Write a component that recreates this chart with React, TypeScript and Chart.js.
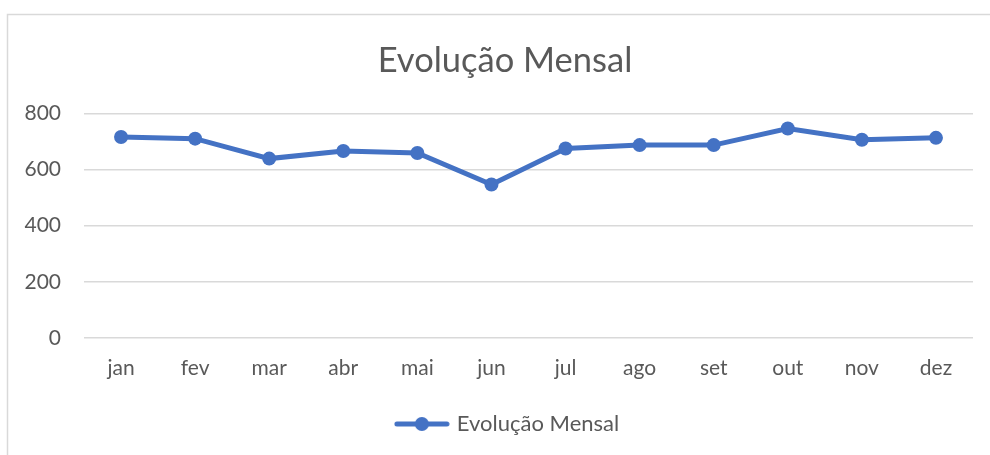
import React, { useEffect, useRef } from "react";
import { Chart, registerables } from "chart.js";
Chart.register(...registerables);

const categories = ["jan", "fev", "mar", "abr", "mai", "jun", "jul", "ago", "set", "out", "nov", "dez"];
const values = [716, 710, 639, 666, 659, 547, 675, 687, 687, 746, 706, 713];
const seriesName = "Evolução Mensal";
const chartTitle = "Evolução Mensal";
const yMin = 0;
const yMax = 800;
const yStep = 200;

const BLUE = "#4472C4";
const TEXT = "#595959";
const GRID = "#d9d9d9";
const FONT = "Lato, 'Open Sans', sans-serif";

function makeLegendImage(): HTMLCanvasElement {
  const c = document.createElement("canvas");
  c.width = 56;
  c.height = 16;
  const ctx = c.getContext("2d")!;
  ctx.strokeStyle = BLUE;
  ctx.lineWidth = 5;
  ctx.lineCap = "round";
  ctx.beginPath();
  ctx.moveTo(3, 8);
  ctx.lineTo(53, 8);
  ctx.stroke();
  ctx.fillStyle = BLUE;
  ctx.beginPath();
  ctx.arc(28, 8, 7, 0, Math.PI * 2);
  ctx.fill();
  return c;
}

const borderPlugin = {
  id: "outerBorder",
  beforeDraw(chart: any) {
    const ctx = chart.ctx;
    ctx.save();
    ctx.fillStyle = "#ffffff";
    ctx.fillRect(0, 0, chart.width, chart.height);
    ctx.strokeStyle = GRID;
    ctx.lineWidth = 1.5;
    ctx.beginPath();
    ctx.moveTo(7.5, chart.height + 5);
    ctx.lineTo(7.5, 14.5);
    ctx.lineTo(chart.width + 5, 14.5);
    ctx.stroke();
    ctx.restore();
  },
};

// shift title and legend to be centred like the original (centred on a slightly wider frame)
const shiftPlugin = {
  id: "shiftBlocks",
  afterLayout(chart: any) {
    const t = chart.titleBlock;
    if (t) {
      t.left += 18.5;
      t.right += 18.5;
    }
    const l = chart.legend;
    if (l) {
      l.left += 22;
      l.right += 22;
    }
  },
};

export default function App() {
  const ref = useRef<HTMLCanvasElement>(null);
  useEffect(() => {
    if (!ref.current) return;
    const legendImg = makeLegendImage();
    const chart = new Chart(ref.current, {
      type: "line",
      data: {
        labels: categories,
        datasets: [
          {
            label: seriesName,
            data: values,
            borderColor: BLUE,
            backgroundColor: BLUE,
            borderWidth: 5,
            pointRadius: 7,
            pointBackgroundColor: BLUE,
            pointBorderColor: BLUE,
            pointBorderWidth: 0,
            tension: 0,
          },
        ],
      },
      options: {
        animation: false,
        responsive: false,
        maintainAspectRatio: false,
        layout: { padding: { left: 0, right: 17, top: 0, bottom: 10 } },
        plugins: {
          title: {
            display: true,
            text: chartTitle,
            color: TEXT,
            font: { family: FONT, size: 34.5, weight: "normal", lineHeight: 1.2 },
            padding: { top: 40, bottom: 32 },
          },
          legend: {
            display: true,
            position: "bottom",
            labels: {
              color: TEXT,
              font: { family: FONT, size: 22 },
              usePointStyle: true,
              pointStyleWidth: 48,
              boxHeight: 16,
              padding: 10,
              generateLabels: (c: any) =>
                c.data.datasets.map((d: any, i: number) => ({
                  text: d.label,
                  fillStyle: BLUE,
                  strokeStyle: BLUE,
                  lineWidth: 0,
                  pointStyle: legendImg,
                  hidden: false,
                  datasetIndex: i,
                  fontColor: TEXT,
                })),
            },
          },
          tooltip: { enabled: false },
        },
        scales: {
          x: {
            offset: true,
            grid: { display: false, drawTicks: false },
            border: { display: false },
            ticks: {
              color: TEXT,
              font: { family: FONT, size: 21 },
              padding: 18,
              maxRotation: 0,
            },
            afterFit: (s: any) => {
              s.height = 65;
            },
          },
          y: {
            min: yMin,
            max: yMax,
            grid: { color: GRID, lineWidth: 1.5, drawTicks: false },
            border: { display: false },
            ticks: {
              stepSize: yStep,
              color: TEXT,
              font: { family: FONT, size: 21 },
              padding: 23,
            },
            afterFit: (s: any) => {
              s.width = 84;
            },
          },
        },
      },
      plugins: [borderPlugin, shiftPlugin],
    });
    return () => chart.destroy();
  }, []);
  return (
    <div style={{ position: "fixed", left: 0, top: 0, width: 990, height: 455, background: "#fff" }}>
      <canvas ref={ref} width={990} height={455} style={{ display: "block" }} />
    </div>
  );
}
